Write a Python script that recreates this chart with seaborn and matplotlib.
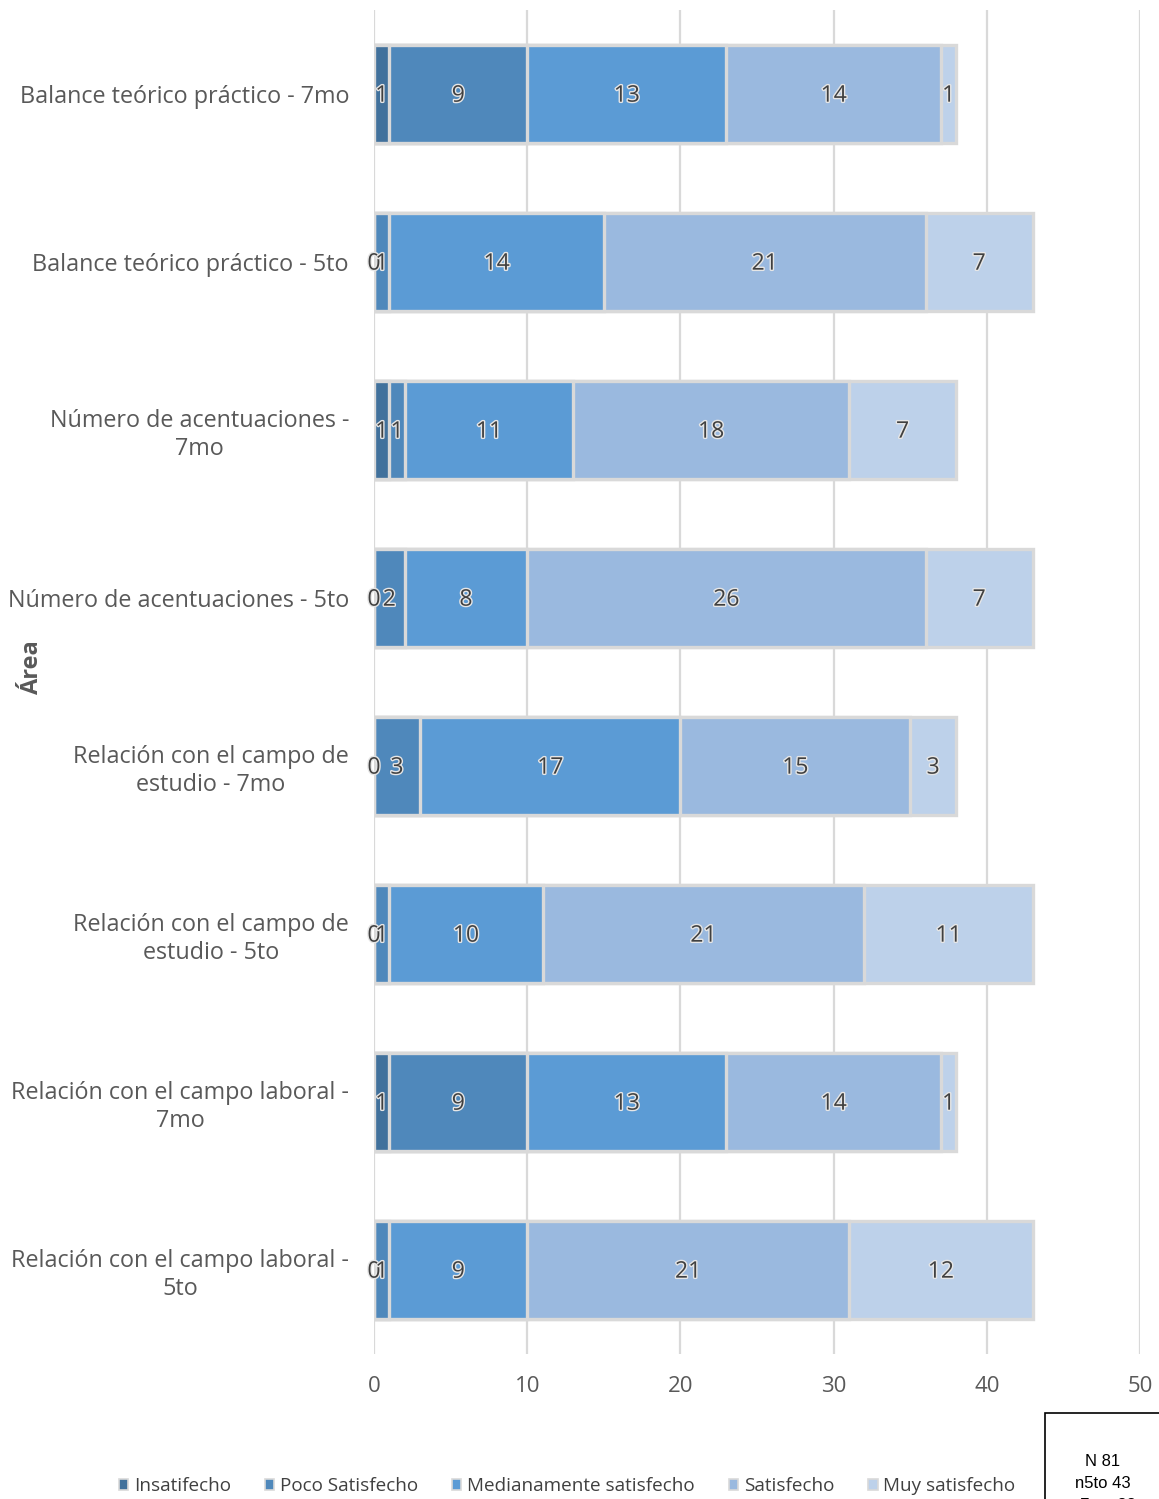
import numpy as np
import pandas as pd
import seaborn as sns
import matplotlib.pyplot as plt
import matplotlib.patheffects as pe
from matplotlib.patches import Patch, Rectangle

# --- data ---
categories = [
    "Balance teórico práctico - 7mo",
    "Balance teórico práctico - 5to",
    "Número de acentuaciones -\n7mo",
    "Número de acentuaciones - 5to",
    "Relación con el campo de\nestudio - 7mo",
    "Relación con el campo de\nestudio - 5to",
    "Relación con el campo laboral -\n7mo",
    "Relación con el campo laboral -\n5to",
]
series_names = ["Insatifecho", "Poco Satisfecho", "Medianamente satisfecho",
                "Satisfecho", "Muy satisfecho"]
insatisfecho = [1, 0, 1, 0, 0, 0, 1, 0]
poco = [9, 1, 1, 2, 3, 1, 9, 1]
medianamente = [13, 14, 11, 8, 17, 10, 13, 9]
satisfecho = [14, 21, 18, 26, 15, 21, 14, 21]
muy = [1, 7, 7, 7, 3, 11, 1, 12]
x_ticks = [0, 10, 20, 30, 40, 50]
box_lines = ["N 81", "n5to 43", "n7mo 38"]

colors = ["#41719C", "#4F88BB", "#5B9BD5", "#9AB9DF", "#BDD1EA"]
EDGE = "#D9D9D9"
TEXT = "#595959"

sns.set_style("white")
plt.rcParams['font.family'] = ['Open Sans', 'DejaVu Sans']

vals = np.array([insatisfecho, poco, medianamente, satisfecho, muy], dtype=float)
cum = np.cumsum(vals, axis=0)

fig = plt.figure(figsize=(11.59, 14.99), dpi=100)
ax = fig.add_axes([374 / 1159, 1 - 1354 / 1499, (1140 - 374) / 1159, 1344 / 1499])

# stacked bars: draw the cumulative totals from widest to narrowest
for i in range(len(series_names) - 1, -1, -1):
    df = pd.DataFrame({"Área": categories, "valor": cum[i]})
    sns.barplot(data=df, x="valor", y="Área", order=categories, orient="h",
                color=colors[i], saturation=1, width=0.58,
                edgecolor=EDGE, linewidth=2.4, ax=ax, zorder=2)

# data labels
for i in range(len(series_names)):
    for j in range(len(categories)):
        center = cum[i, j] - vals[i, j] / 2
        ax.text(center, j + 0.01, f"{int(vals[i, j])}", ha="center", va="center",
                fontsize=16.5, color="#404040", zorder=5,
                path_effects=[pe.withStroke(linewidth=2, foreground="#E6E6E6")])

ax.set_xlim(0, 50)
ax.set_ylim(len(categories) - 0.5, -0.5)
ax.set_xticks(x_ticks)
ax.xaxis.grid(True, color=EDGE, linewidth=1.6, zorder=0)
ax.set_axisbelow(True)
for s in ax.spines.values():
    s.set_visible(False)
ax.tick_params(axis="x", length=0, pad=16, labelsize=16, labelcolor=TEXT)
ax.tick_params(axis="y", length=0, pad=18, labelsize=16.8, labelcolor=TEXT)
for lbl in ax.get_yticklabels():
    lbl.set_multialignment("center")
ax.set_xlabel("")
ax.set_ylabel("")
fig.text(32 / 1159, 1 - 667 / 1499, "Área", rotation=90, ha="center", va="center",
         fontsize=17, fontweight="bold", color=TEXT)

# legend
handles = [Patch(facecolor=c, edgecolor=EDGE, linewidth=1.2) for c in colors]
fig.legend(handles, series_names, loc="center", bbox_to_anchor=(567 / 1159, 1 - 1486 / 1499),
           ncol=5, frameon=False, fontsize=13.6, handlelength=0.5, handleheight=0.5,
           handletextpad=0.3, columnspacing=1.8, labelcolor="#404040")

# N box at bottom right
fig.patches.append(Rectangle((1045 / 1159, -0.01), 0.2, 0.01 + 86 / 1499,
                             transform=fig.transFigure, fill=False,
                             edgecolor="black", linewidth=1.2))
for k, line in enumerate(box_lines):
    fig.text(1103 / 1159, 1 - (1461 + 22 * k) / 1499, line, ha="center", va="center",
             fontsize=12, color="black", family=["Liberation Sans", "DejaVu Sans"])

fig.savefig("out.png", dpi=100)
